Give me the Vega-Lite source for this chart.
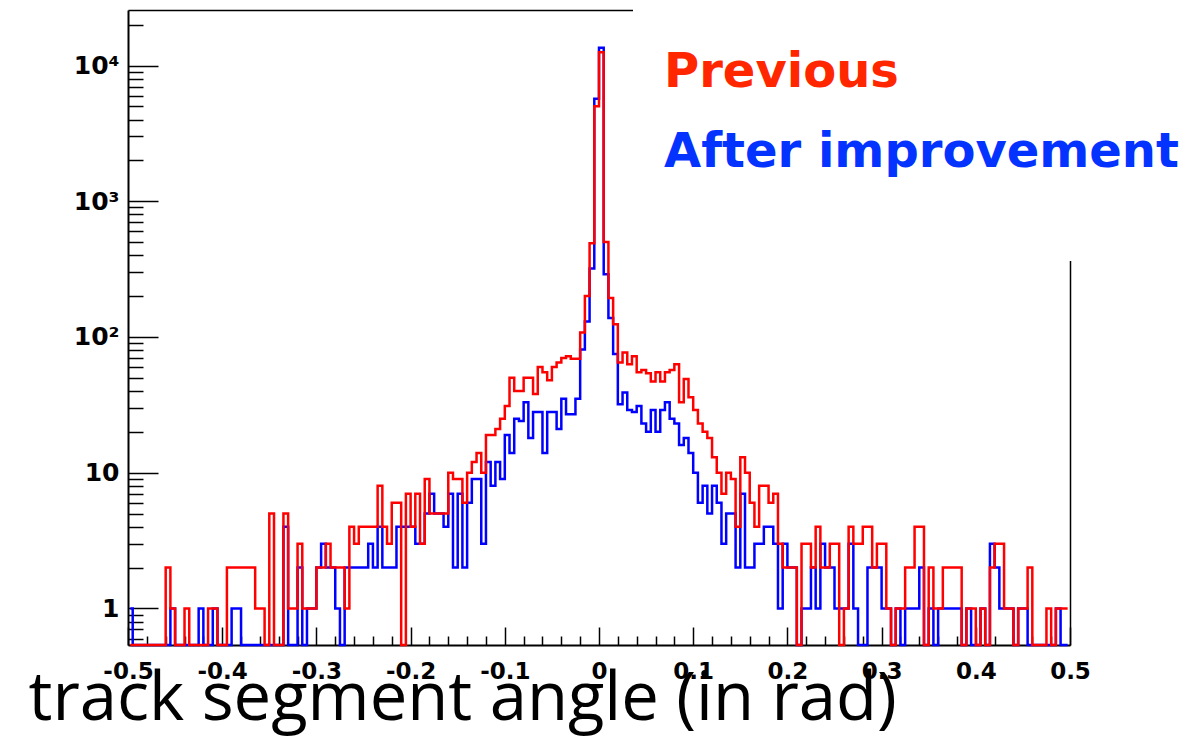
{
"$schema": "https://vega.github.io/schema/vega-lite/v6.json",
"width": 942, "height": 635,
"autosize": {"type": "none"},
"padding": {"left": 128, "top": 10, "right": 122, "bottom": 93},
"background": "white",
"config": {"view": {"stroke": null}, "axis": {"grid": false}},
"data": {"values": [
{"angle":-0.4975,"previous":0,"after":1},{"angle":-0.4925,"previous":0,"after":0},{"angle":-0.4875,"previous":0,"after":0},{"angle":-0.4825,"previous":0,"after":0},{"angle":-0.4775,"previous":0,"after":0},
{"angle":-0.4725,"previous":0,"after":0},{"angle":-0.4675,"previous":0,"after":0},{"angle":-0.4625,"previous":0,"after":0},{"angle":-0.4575,"previous":2,"after":0},{"angle":-0.4525,"previous":1,"after":1},
{"angle":-0.4475,"previous":0,"after":0},{"angle":-0.4425,"previous":0,"after":0},{"angle":-0.4375,"previous":1,"after":0},{"angle":-0.4325,"previous":0,"after":0},{"angle":-0.4275,"previous":0,"after":0},
{"angle":-0.4225,"previous":0,"after":1},{"angle":-0.4175,"previous":0,"after":0},{"angle":-0.4125,"previous":1,"after":0},{"angle":-0.4075,"previous":1,"after":1},{"angle":-0.4025,"previous":0,"after":0},
{"angle":-0.3975,"previous":0,"after":0},{"angle":-0.3925,"previous":2,"after":0},{"angle":-0.3875,"previous":2,"after":1},{"angle":-0.3825,"previous":2,"after":1},{"angle":-0.3775,"previous":2,"after":0},
{"angle":-0.3725,"previous":2,"after":0},{"angle":-0.3675,"previous":2,"after":0},{"angle":-0.3625,"previous":1,"after":0},{"angle":-0.3575,"previous":1,"after":0},{"angle":-0.3525,"previous":0,"after":0},
{"angle":-0.3475,"previous":5,"after":0},{"angle":-0.3425,"previous":0,"after":0},{"angle":-0.3375,"previous":0,"after":0},{"angle":-0.3325,"previous":5,"after":4},{"angle":-0.3275,"previous":1,"after":0},
{"angle":-0.3225,"previous":1,"after":0},{"angle":-0.3175,"previous":3,"after":2},{"angle":-0.3125,"previous":1,"after":0},{"angle":-0.3075,"previous":1,"after":1},{"angle":-0.3025,"previous":1,"after":1},
{"angle":-0.2975,"previous":2,"after":2},{"angle":-0.2925,"previous":2,"after":3},{"angle":-0.2875,"previous":3,"after":2},{"angle":-0.2825,"previous":2,"after":2},{"angle":-0.2775,"previous":2,"after":1},
{"angle":-0.2725,"previous":2,"after":0},{"angle":-0.2675,"previous":1,"after":2},{"angle":-0.2625,"previous":4,"after":2},{"angle":-0.2575,"previous":3,"after":2},{"angle":-0.2525,"previous":4,"after":2},
{"angle":-0.2475,"previous":4,"after":2},{"angle":-0.2425,"previous":4,"after":3},{"angle":-0.2375,"previous":4,"after":2},{"angle":-0.2325,"previous":8,"after":4},{"angle":-0.2275,"previous":4,"after":2},
{"angle":-0.2225,"previous":3,"after":2},{"angle":-0.2175,"previous":6,"after":2},{"angle":-0.2125,"previous":6,"after":4},{"angle":-0.2075,"previous":0,"after":4},{"angle":-0.2025,"previous":7,"after":4},
{"angle":-0.1975,"previous":4,"after":4},{"angle":-0.1925,"previous":7,"after":3},{"angle":-0.1875,"previous":3,"after":3},{"angle":-0.1825,"previous":9,"after":5},{"angle":-0.1775,"previous":5,"after":7},
{"angle":-0.1725,"previous":5,"after":5},{"angle":-0.1675,"previous":5,"after":5},{"angle":-0.1625,"previous":5,"after":4},{"angle":-0.1575,"previous":10,"after":7},{"angle":-0.1525,"previous":9,"after":2},
{"angle":-0.1475,"previous":9,"after":7},{"angle":-0.1425,"previous":6,"after":2},{"angle":-0.1375,"previous":10,"after":6},{"angle":-0.1325,"previous":12,"after":9},{"angle":-0.1275,"previous":14,"after":9},
{"angle":-0.1225,"previous":10,"after":3},{"angle":-0.1175,"previous":19,"after":12},{"angle":-0.1125,"previous":19,"after":8},{"angle":-0.1075,"previous":21,"after":12},{"angle":-0.1025,"previous":25,"after":9},
{"angle":-0.0975,"previous":31,"after":19},{"angle":-0.0925,"previous":50,"after":14},{"angle":-0.0875,"previous":40,"after":25},{"angle":-0.0825,"previous":40,"after":24},{"angle":-0.0775,"previous":50,"after":33},
{"angle":-0.0725,"previous":50,"after":18},{"angle":-0.0675,"previous":38,"after":28},{"angle":-0.0625,"previous":60,"after":28},{"angle":-0.0575,"previous":55,"after":14},{"angle":-0.0525,"previous":48,"after":28},
{"angle":-0.0475,"previous":60,"after":28},{"angle":-0.0425,"previous":65,"after":21},{"angle":-0.0375,"previous":70,"after":35},{"angle":-0.0325,"previous":72,"after":27},{"angle":-0.0275,"previous":69,"after":27},
{"angle":-0.0225,"previous":69,"after":35},{"angle":-0.0175,"previous":108,"after":81},{"angle":-0.0125,"previous":200,"after":130},{"angle":-0.0075,"previous":490,"after":320},{"angle":-0.0025,"previous":5000,"after":5700},
{"angle":0.0025,"previous":12500,"after":13500},{"angle":0.0075,"previous":500,"after":290},{"angle":0.0125,"previous":194,"after":138},{"angle":0.0175,"previous":124,"after":75},{"angle":0.0225,"previous":65,"after":32},
{"angle":0.0275,"previous":77,"after":39},{"angle":0.0325,"previous":63,"after":29},{"angle":0.0375,"previous":72,"after":28},{"angle":0.0425,"previous":55,"after":31},{"angle":0.0475,"previous":57,"after":23},
{"angle":0.0525,"previous":54,"after":20},{"angle":0.0575,"previous":47,"after":29},{"angle":0.0625,"previous":55,"after":20},{"angle":0.0675,"previous":47,"after":29},{"angle":0.0725,"previous":55,"after":33},
{"angle":0.0775,"previous":57,"after":25},{"angle":0.0825,"previous":63,"after":23},{"angle":0.0875,"previous":33,"after":16},{"angle":0.0925,"previous":49,"after":18},{"angle":0.0975,"previous":36,"after":14},
{"angle":0.1025,"previous":29,"after":10},{"angle":0.1075,"previous":23,"after":6},{"angle":0.1125,"previous":20,"after":8},{"angle":0.1175,"previous":18,"after":5},{"angle":0.1225,"previous":13,"after":8},
{"angle":0.1275,"previous":10,"after":6},{"angle":0.1325,"previous":7,"after":3},{"angle":0.1375,"previous":10,"after":5},{"angle":0.1425,"previous":9,"after":5},{"angle":0.1475,"previous":4,"after":2},
{"angle":0.1525,"previous":13,"after":7},{"angle":0.1575,"previous":10,"after":2},{"angle":0.1625,"previous":6,"after":2},{"angle":0.1675,"previous":4,"after":3},{"angle":0.1725,"previous":8,"after":3},
{"angle":0.1775,"previous":8,"after":4},{"angle":0.1825,"previous":6,"after":4},{"angle":0.1875,"previous":7,"after":3},{"angle":0.1925,"previous":3,"after":1},{"angle":0.1975,"previous":2,"after":3},
{"angle":0.2025,"previous":2,"after":2},{"angle":0.2075,"previous":2,"after":2},{"angle":0.2125,"previous":0,"after":0},{"angle":0.2175,"previous":3,"after":1},{"angle":0.2225,"previous":3,"after":1},
{"angle":0.2275,"previous":2,"after":2},{"angle":0.2325,"previous":4,"after":1},{"angle":0.2375,"previous":2,"after":3},{"angle":0.2425,"previous":2,"after":2},{"angle":0.2475,"previous":3,"after":2},
{"angle":0.2525,"previous":3,"after":1},{"angle":0.2575,"previous":0,"after":1},{"angle":0.2625,"previous":1,"after":1},{"angle":0.2675,"previous":4,"after":3},{"angle":0.2725,"previous":3,"after":1},
{"angle":0.2775,"previous":3,"after":0},{"angle":0.2825,"previous":4,"after":0},{"angle":0.2875,"previous":4,"after":2},{"angle":0.2925,"previous":2,"after":2},{"angle":0.2975,"previous":3,"after":2},
{"angle":0.3025,"previous":3,"after":1},{"angle":0.3075,"previous":1,"after":1},{"angle":0.3125,"previous":0,"after":0},{"angle":0.3175,"previous":1,"after":1},{"angle":0.3225,"previous":1,"after":0},
{"angle":0.3275,"previous":2,"after":1},{"angle":0.3325,"previous":2,"after":1},{"angle":0.3375,"previous":4,"after":1},{"angle":0.3425,"previous":4,"after":2},{"angle":0.3475,"previous":0,"after":0},
{"angle":0.3525,"previous":2,"after":1},{"angle":0.3575,"previous":1,"after":0},{"angle":0.3625,"previous":1,"after":1},{"angle":0.3675,"previous":2,"after":1},{"angle":0.3725,"previous":2,"after":1},
{"angle":0.3775,"previous":2,"after":1},{"angle":0.3825,"previous":2,"after":1},{"angle":0.3875,"previous":0,"after":0},{"angle":0.3925,"previous":1,"after":1},{"angle":0.3975,"previous":1,"after":0},
{"angle":0.4025,"previous":0,"after":0},{"angle":0.4075,"previous":1,"after":1},{"angle":0.4125,"previous":0,"after":0},{"angle":0.4175,"previous":2,"after":3},{"angle":0.4225,"previous":3,"after":2},
{"angle":0.4275,"previous":3,"after":1},{"angle":0.4325,"previous":1,"after":1},{"angle":0.4375,"previous":1,"after":1},{"angle":0.4425,"previous":0,"after":0},{"angle":0.4475,"previous":1,"after":1},
{"angle":0.4525,"previous":1,"after":1},{"angle":0.4575,"previous":2,"after":0},{"angle":0.4625,"previous":0,"after":0},{"angle":0.4675,"previous":0,"after":0},{"angle":0.4725,"previous":0,"after":0},
{"angle":0.4775,"previous":1,"after":0},{"angle":0.4825,"previous":0,"after":0},{"angle":0.4875,"previous":1,"after":1},{"angle":0.4925,"previous":1,"after":0},{"angle":0.4975,"previous":1,"after":0}
]},
"layer": [
{"mark": {"type": "line", "interpolate": "step", "strokeWidth": 2.5, "invalid": "show"},
 "encoding": {
  "x": {"field": "angle", "type": "quantitative",
        "scale": {"domain": [-0.5, 0.5], "nice": false, "zero": false},
        "axis": {"orient": "bottom",
                 "values": [-0.5,-0.48,-0.46,-0.44,-0.42,-0.4,-0.38,-0.36,-0.34,-0.32,-0.3,-0.28,-0.26,-0.24,-0.22,-0.2,-0.18,-0.16,-0.14,-0.12,-0.1,-0.08,-0.06,-0.04,-0.02,0,0.02,0.04,0.06,0.08,0.1,0.12,0.14,0.16,0.18,0.2,0.22,0.24,0.26,0.28,0.3,0.32,0.34,0.36,0.38,0.4,0.42,0.44,0.46,0.48,0.5],
                 "labelExpr": "abs(datum.value*10 - round(datum.value*10)) < 0.001 ? toString(round(datum.value*10)/10) : ''",
                 "labelFont": "DejaVu Sans", "labelFontWeight": "bold", "labelFontSize": 23, "labelColor": "black",
                 "labelPadding": 33, "labelOverlap": false, "labelFlush": false,
                 "tickColor": "black", "tickWidth": 1.5,
                 "tickSize": {"condition": {"test": "abs(datum.value*10 - round(datum.value*10)) < 0.001", "value": -18}, "value": -9},
                 "domainColor": "black", "domainWidth": 2,
                 "title": "track segment angle (in rad)", "titleFont": "Open Sans", "titleFontWeight": "normal", "titleFontSize": 67, "titleColor": "black",
                 "titleX": -100, "titleY": 74, "titleAlign": "left", "titleBaseline": "alphabetic", "titleAnchor": "start"}},
  "y": {"field": "after", "type": "quantitative",
        "scale": {"type": "log", "domain": [0.538, 25640], "nice": false, "clamp": true},
        "axis": {"orient": "left", "title": null,
                 "values": [0.6,0.7,0.8,0.9,1,2,3,4,5,6,7,8,9,10,20,30,40,50,60,70,80,90,100,200,300,400,500,600,700,800,900,1000,2000,3000,4000,5000,6000,7000,8000,9000,10000,20000],
                 "labelExpr": "datum.value == 1 ? '1' : datum.value == 10 ? '10' : datum.value == 100 ? '10²' : datum.value == 1000 ? '10³' : datum.value == 10000 ? '10⁴' : ''",
                 "labelFont": "DejaVu Sans", "labelFontWeight": "bold", "labelFontSize": 25, "labelColor": "black",
                 "labelPadding": 39, "labelOverlap": false,
                 "tickColor": "black", "tickWidth": 1.5,
                 "tickSize": {"condition": {"test": "datum.value == 1 || datum.value == 10 || datum.value == 100 || datum.value == 1000 || datum.value == 10000", "value": -30}, "value": -15},
                 "domainColor": "black", "domainWidth": 2}},
  "color": {"datum": "After improvement", "type": "nominal",
            "scale": {"domain": ["Previous", "After improvement"], "range": ["#ff0000", "#0000ff"]},
            "legend": {"orient": "none", "legendX": 505, "legendY": -8, "title": " ", "titleOrient": "bottom", "titleFontSize": 24, "titlePadding": 12,
                       "padding": 31, "fillColor": "white", "strokeColor": "white",
                       "symbolType": "square", "symbolSize": 6400, "symbolOpacity": 0, "symbolStrokeWidth": 0,
                       "labelOffset": -80, "labelFont": "DejaVu Sans", "labelFontSize": 48, "labelFontWeight": "bold", "labelLimit": 2000, "rowPadding": 0,
                       "encode": {"labels": {"update": {"fill": {"signal": "datum.label === 'Previous' ? '#ff2600' : '#0433ff'"}}}}}}
 }},
{"mark": {"type": "line", "interpolate": "step", "strokeWidth": 2.5, "invalid": "show"},
 "encoding": {
  "x": {"field": "angle", "type": "quantitative", "axis": {"orient": "top", "labels": false, "ticks": false, "title": null, "domainColor": "black", "domainWidth": 1.5}},
  "y": {"field": "previous", "type": "quantitative", "axis": {"orient": "right", "labels": false, "ticks": false, "title": null, "domainColor": "black", "domainWidth": 1.5}},
  "color": {"datum": "Previous", "type": "nominal"}
 }}
],
"resolve": {"axis": {"x": "independent", "y": "independent"}}
}
